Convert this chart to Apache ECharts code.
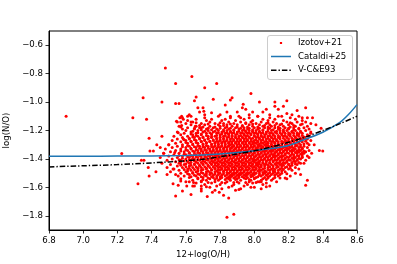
<!DOCTYPE html>
<html>
<head>
<meta charset="utf-8">
<script src="https://cdn.jsdelivr.net/npm/echarts@6/dist/echarts.min.js"></script>
<style>html,body{margin:0;padding:0;background:#fff}#c{width:397px;height:264px}</style>
</head>
<body>
<div id="c"></div>
<script>
// ---- data ----
const xTicks = [6.8, 7.0, 7.2, 7.4, 7.6, 7.8, 8.0, 8.2, 8.4, 8.6];
const yTicks = [-1.8, -1.6, -1.4, -1.2, -1.0, -0.8, -0.6];

// Izotov+21: sparse / outlying points [12+log(O/H), log(N/O)]
const izOut = [
[6.90,-1.10],[7.29,-1.11],[7.37,-1.12],[7.35,-0.97],[7.46,-1.00],[7.48,-0.76],[7.54,-0.87],[7.635,-0.82],
[7.71,-0.90],[7.54,-1.01],[7.56,-1.01],[7.66,-0.965],[7.65,-0.99],[7.67,-1.04],[7.70,-1.04],[7.68,-1.07],
[7.705,-1.065],[7.62,-1.09],[7.61,-1.10],[7.575,-1.10],[7.565,-1.11],[7.71,-1.09],[7.78,-0.87],[7.76,-0.98],
[7.87,-0.97],[7.86,-0.985],[7.98,-0.94],[7.83,-1.02],[7.935,-1.015],[7.93,-1.04],[8.03,-1.00],[8.12,-1.00],
[8.12,-1.03],[8.17,-1.03],[8.19,-0.99],[8.30,-1.04],[8.34,-1.11],[7.75,-1.075],[7.80,-1.09],[7.84,-1.07],
[7.90,-1.07],[7.95,-1.05],[7.99,-1.07],[8.05,-1.07],[8.07,-1.05],[8.14,-1.05],[8.19,-1.08],[8.39,-1.185],
[8.38,-1.34],[8.40,-1.345],[8.335,-1.36],[8.27,-1.51],[8.31,-1.55],[8.30,-1.585],[7.84,-1.81],[7.88,-1.79],
[7.725,-1.665],[7.85,-1.675],[7.91,-1.615],[7.755,-1.635],[7.795,-1.635],[7.82,-1.655],[8.00,-1.60],[8.02,-1.56],
[8.04,-1.56],[8.18,-1.535],[8.07,-1.595],[7.32,-1.575],[7.54,-1.66],[7.58,-1.625],[7.63,-1.65],[7.69,-1.625],
[7.525,-1.575],[7.555,-1.585],[7.555,-1.52],[7.57,-1.555],[7.605,-1.59],[7.62,-1.56],[7.645,-1.565],[7.64,-1.59],
[7.69,-1.59],[7.72,-1.595],[7.69,-1.555],[7.385,-1.255],[7.46,-1.24],[7.43,-1.30],[7.50,-1.30],[7.45,-1.32],
[7.39,-1.345],[7.47,-1.36],[7.535,-1.355],[7.38,-1.46],[7.355,-1.41],[7.425,-1.49],[7.525,-1.47],[7.49,-1.51],
[7.545,-1.135],[7.575,-1.165],[7.555,-1.215],[7.585,-1.26],[7.225,-1.362],[7.385,-1.52],[7.34,-1.41],[7.41,-1.345],
[7.57,-1.175],[7.655,-1.17],[7.68,-1.18],[7.63,-1.14],[7.585,-1.12],[7.55,-1.14],[8.31,-1.26],[8.33,-1.22],
[8.35,-1.30],[8.29,-1.43],[8.32,-1.39],[8.26,-1.47],[8.28,-1.11],[8.36,-1.16],[7.86,-1.10],[7.92,-1.11],
[7.97,-1.09],[8.02,-1.10],[8.09,-1.09],[8.16,-1.10],[8.22,-1.09],[8.25,-1.06]
];

// Izotov+21: dense core, one row per log(N/O) level, listing 12+log(O/H) of points
const izRows = [
[-1.10,[7.63,7.79,7.91,8.02,8.14,8.26]],
[-1.11,[7.58,7.71,7.86,7.97,8.09,8.21,8.31]],
[-1.12,[7.66,7.75,7.83,7.94,8.05,8.12,8.24]],
[-1.13,[7.61,7.72,7.81,7.89,7.99,8.08,8.17,8.28]],
[-1.14,[7.57,7.64,7.74,7.85,7.92,7.98,8.04,8.11,8.19,8.25,8.30]],
[-1.15,[7.60,7.69,7.77,7.82,7.88,7.95,8.01,8.07,8.13,8.22,8.33]],
[-1.16,[7.63,7.71,7.79,7.84,7.90,7.97,8.03,8.09,8.15,8.20,8.27]],
[-1.17,[7.56,7.66,7.74,7.80,7.87,7.93,7.99,8.05,8.10,8.17,8.24,8.31]],
[-1.18,[7.61,7.69,7.76,7.83,7.89,7.94,8.00,8.06,8.12,8.18,8.23,8.29]],
[-1.19,[7.58,7.65,7.72,7.78,7.85,7.91,7.96,8.02,8.08,8.14,8.20,8.26,8.32]],
[-1.20,[7.60,7.67,7.73,7.79,7.84,7.88,7.93,7.97,8.01,8.05,8.10,8.15,8.19,8.24,8.30]],
[-1.21,[7.55,7.63,7.70,7.76,7.81,7.86,7.90,7.95,7.99,8.03,8.07,8.12,8.17,8.22,8.27,8.33]],
[-1.22,[7.59,7.66,7.72,7.78,7.83,7.87,7.92,7.96,8.00,8.04,8.09,8.13,8.18,8.23,8.28]],
[-1.23,[7.57,7.64,7.69,7.75,7.80,7.85,7.89,7.94,7.98,8.02,8.06,8.11,8.16,8.20,8.25,8.31]],
[-1.24,[7.53,7.61,7.67,7.73,7.77,7.82,7.87,7.91,7.95,8.00,8.04,8.08,8.12,8.17,8.21,8.26,8.32]],
[-1.25,[7.58,7.65,7.70,7.75,7.80,7.84,7.89,7.93,7.97,8.01,8.05,8.10,8.14,8.19,8.24,8.29]],
[-1.26,[7.55,7.62,7.68,7.73,7.78,7.82,7.86,7.90,7.94,7.98,8.03,8.07,8.11,8.15,8.20,8.25,8.30]],
[-1.27,[7.52,7.60,7.66,7.71,7.76,7.80,7.84,7.88,7.92,7.96,8.00,8.04,8.09,8.13,8.18,8.22,8.27,8.33]],
[-1.28,[7.57,7.63,7.69,7.74,7.79,7.83,7.87,7.91,7.95,7.99,8.02,8.06,8.10,8.14,8.19,8.23,8.28]],
[-1.29,[7.54,7.61,7.67,7.72,7.77,7.81,7.85,7.89,7.93,7.97,8.01,8.05,8.08,8.12,8.16,8.21,8.26,8.31]],
[-1.30,[7.50,7.58,7.64,7.70,7.75,7.79,7.83,7.86,7.90,7.94,7.98,8.02,8.06,8.10,8.14,8.18,8.22,8.27,8.32]],
[-1.31,[7.55,7.62,7.68,7.73,7.77,7.81,7.85,7.88,7.92,7.96,8.00,8.03,8.07,8.11,8.15,8.20,8.24,8.29]],
[-1.32,[7.52,7.60,7.66,7.71,7.76,7.80,7.84,7.87,7.91,7.95,7.99,8.02,8.05,8.09,8.13,8.17,8.21,8.26,8.31]],
[-1.33,[7.48,7.57,7.63,7.69,7.74,7.78,7.82,7.86,7.89,7.93,7.97,8.01,8.04,8.08,8.12,8.16,8.20,8.24,8.28]],
[-1.34,[7.54,7.61,7.67,7.72,7.76,7.80,7.84,7.88,7.92,7.96,8.00,8.03,8.07,8.11,8.15,8.19,8.23,8.27,8.32]],
[-1.35,[7.51,7.59,7.65,7.70,7.75,7.79,7.83,7.87,7.90,7.94,7.98,8.02,8.06,8.10,8.13,8.17,8.22,8.26,8.30]],
[-1.36,[7.47,7.56,7.62,7.68,7.73,7.77,7.81,7.85,7.89,7.93,7.97,8.00,8.04,8.08,8.12,8.16,8.20,8.25,8.29]],
[-1.37,[7.53,7.60,7.66,7.71,7.75,7.79,7.83,7.87,7.91,7.95,7.99,8.03,8.07,8.11,8.14,8.18,8.23,8.28]],
[-1.38,[7.50,7.58,7.64,7.69,7.74,7.78,7.82,7.86,7.90,7.94,7.98,8.01,8.05,8.09,8.13,8.17,8.21,8.26,8.31]],
[-1.39,[7.45,7.55,7.62,7.67,7.72,7.76,7.80,7.84,7.88,7.92,7.96,8.00,8.04,8.08,8.12,8.16,8.20,8.24,8.28]],
[-1.40,[7.52,7.60,7.65,7.70,7.75,7.79,7.83,7.87,7.91,7.95,7.99,8.02,8.06,8.10,8.14,8.18,8.23,8.27]],
[-1.41,[7.49,7.57,7.63,7.68,7.73,7.77,7.81,7.85,7.89,7.93,7.97,8.01,8.05,8.09,8.13,8.17,8.21,8.25,8.30]],
[-1.42,[7.54,7.61,7.66,7.71,7.76,7.80,7.84,7.88,7.92,7.96,8.00,8.03,8.07,8.11,8.15,8.19,8.24]],
[-1.43,[7.46,7.56,7.62,7.67,7.72,7.77,7.81,7.85,7.89,7.93,7.97,8.01,8.05,8.09,8.14,8.18,8.22,8.27]],
[-1.44,[7.51,7.59,7.65,7.70,7.75,7.79,7.83,7.87,7.91,7.95,7.99,8.02,8.06,8.10,8.15,8.20,8.25]],
[-1.45,[7.55,7.62,7.68,7.73,7.78,7.82,7.86,7.90,7.94,7.98,8.02,8.06,8.11,8.16,8.21]],
[-1.46,[7.49,7.58,7.64,7.69,7.74,7.79,7.83,7.87,7.91,7.95,7.99,8.03,8.08,8.13,8.18,8.24]],
[-1.47,[7.53,7.61,7.67,7.72,7.77,7.81,7.85,7.89,7.93,7.97,8.01,8.05,8.10,8.15,8.20]],
[-1.48,[7.56,7.63,7.69,7.75,7.80,7.84,7.88,7.92,7.96,8.00,8.04,8.09,8.14,8.22]],
[-1.49,[7.51,7.60,7.66,7.72,7.77,7.82,7.86,7.90,7.94,7.98,8.03,8.07,8.12,8.18]],
[-1.50,[7.57,7.64,7.70,7.75,7.80,7.85,7.89,7.93,7.97,8.01,8.06,8.11,8.16,8.24]],
[-1.51,[7.54,7.62,7.68,7.74,7.79,7.84,7.88,7.92,7.96,8.00,8.05,8.10,8.15]],
[-1.52,[7.59,7.66,7.72,7.78,7.83,7.87,7.91,7.95,7.99,8.04,8.09,8.14,8.21]],
[-1.53,[7.62,7.70,7.76,7.81,7.86,7.91,7.96,8.01,8.06,8.12]],
[-1.54,[7.57,7.67,7.74,7.80,7.85,7.90,7.95,8.00,8.05,8.11,8.19]],
[-1.55,[7.64,7.72,7.79,7.86,7.92,7.98,8.04,8.10]],
[-1.56,[7.60,7.69,7.77,7.84,7.90,7.97,8.03,8.13]],
[-1.57,[7.66,7.75,7.83,7.91,7.99,8.07]],
[-1.58,[7.71,7.80,7.88,7.96,8.05]],
[-1.59,[7.65,7.78,7.87,7.94,8.09]],
[-1.60,[7.74,7.85,7.98]],
[-1.61,[7.69,7.81,7.92,8.04]],
[-1.62,[7.77,7.89]]
];

// Izotov+21: densest part of the core, rows between the ones above
const izRowsMid = [
[-1.145,[7.66,7.80,7.95,8.08,8.21]],
[-1.155,[7.73,7.86,7.99,8.16,8.28]],
[-1.165,[7.68,7.82,7.93,8.06,8.12,8.23]],
[-1.175,[7.70,7.77,7.84,7.90,7.96,8.02,8.08,8.14,8.21]],
[-1.185,[7.65,7.73,7.80,7.86,7.92,7.97,8.03,8.09,8.15,8.20,8.26]],
[-1.195,[7.69,7.75,7.82,7.88,7.94,7.99,8.05,8.11,8.17,8.23]],
[-1.205,[7.64,7.71,7.77,7.82,7.86,7.91,7.95,7.99,8.03,8.08,8.13,8.17,8.22,8.27]],
[-1.215,[7.67,7.74,7.79,7.84,7.88,7.93,7.97,8.01,8.05,8.10,8.15,8.20,8.25]],
[-1.225,[7.63,7.69,7.75,7.81,7.85,7.90,7.94,7.98,8.02,8.07,8.11,8.16,8.21,8.26]],
[-1.235,[7.66,7.72,7.78,7.83,7.87,7.92,7.96,8.00,8.04,8.09,8.14,8.18,8.23,8.28]],
[-1.245,[7.64,7.70,7.75,7.80,7.85,7.89,7.93,7.97,8.02,8.06,8.10,8.15,8.19,8.24,8.29]],
[-1.255,[7.62,7.68,7.73,7.78,7.82,7.87,7.91,7.95,7.99,8.03,8.08,8.12,8.17,8.22,8.27]],
[-1.265,[7.59,7.65,7.71,7.76,7.80,7.84,7.88,7.92,7.96,8.01,8.05,8.09,8.13,8.18,8.23,8.28]],
[-1.275,[7.63,7.69,7.74,7.78,7.82,7.86,7.90,7.94,7.98,8.02,8.07,8.11,8.16,8.20,8.25,8.30]],
[-1.285,[7.60,7.66,7.72,7.77,7.81,7.85,7.89,7.93,7.97,8.00,8.04,8.08,8.12,8.17,8.21,8.26]],
[-1.295,[7.64,7.70,7.75,7.79,7.83,7.87,7.91,7.95,7.99,8.03,8.07,8.10,8.14,8.19,8.24,8.29]],
[-1.305,[7.61,7.67,7.72,7.77,7.81,7.85,7.88,7.92,7.96,8.00,8.04,8.08,8.12,8.16,8.20,8.25]],
[-1.315,[7.58,7.65,7.70,7.75,7.79,7.83,7.87,7.90,7.94,7.98,8.02,8.05,8.09,8.13,8.18,8.22,8.27]],
[-1.325,[7.63,7.68,7.73,7.78,7.82,7.86,7.89,7.93,7.97,8.01,8.04,8.07,8.11,8.15,8.19,8.23,8.28]],
[-1.335,[7.60,7.66,7.71,7.76,7.80,7.84,7.88,7.91,7.95,7.99,8.03,8.06,8.10,8.14,8.18,8.22,8.26]],
[-1.345,[7.57,7.64,7.69,7.74,7.78,7.82,7.86,7.90,7.94,7.98,8.02,8.05,8.09,8.13,8.17,8.21,8.25,8.29]],
[-1.355,[7.62,7.67,7.72,7.77,7.81,7.85,7.89,7.92,7.96,8.00,8.04,8.08,8.12,8.15,8.19,8.24,8.28]],
[-1.365,[7.59,7.65,7.70,7.75,7.79,7.83,7.87,7.91,7.95,7.99,8.02,8.06,8.10,8.14,8.18,8.22,8.27]],
[-1.375,[7.56,7.63,7.68,7.73,7.77,7.81,7.85,7.89,7.93,7.97,8.01,8.05,8.09,8.12,8.16,8.21,8.25]],
[-1.385,[7.61,7.66,7.71,7.76,7.80,7.84,7.88,7.92,7.96,8.00,8.03,8.07,8.11,8.15,8.19,8.23,8.28]],
[-1.395,[7.58,7.64,7.69,7.74,7.78,7.82,7.86,7.90,7.94,7.98,8.02,8.06,8.10,8.14,8.18,8.22,8.26]],
[-1.405,[7.56,7.62,7.67,7.72,7.77,7.81,7.85,7.89,7.93,7.97,8.00,8.04,8.08,8.12,8.16,8.20,8.25]],
[-1.415,[7.59,7.65,7.70,7.75,7.79,7.83,7.87,7.91,7.95,7.99,8.03,8.07,8.11,8.15,8.19,8.23]],
[-1.425,[7.57,7.63,7.69,7.74,7.78,7.82,7.86,7.90,7.94,7.98,8.02,8.05,8.09,8.13,8.17,8.22,8.26]],
[-1.435,[7.60,7.65,7.70,7.75,7.79,7.83,7.87,7.91,7.95,7.99,8.03,8.07,8.12,8.16,8.20,8.24]],
[-1.445,[7.57,7.63,7.68,7.73,7.77,7.81,7.85,7.89,7.93,7.97,8.01,8.04,8.08,8.13,8.17,8.22]],
[-1.455,[7.60,7.66,7.71,7.76,7.80,7.84,7.88,7.92,7.96,8.00,8.04,8.09,8.14,8.19]],
[-1.465,[7.62,7.67,7.72,7.77,7.81,7.85,7.89,7.93,7.97,8.01,8.06,8.11,8.16,8.21]],
[-1.475,[7.59,7.65,7.70,7.75,7.79,7.83,7.87,7.91,7.95,7.99,8.03,8.08,8.12,8.17]],
[-1.485,[7.61,7.67,7.73,7.78,7.82,7.86,7.90,7.94,7.98,8.02,8.06,8.11,8.16]],
[-1.495,[7.64,7.69,7.74,7.79,7.84,7.88,7.92,7.96,8.00,8.05,8.09,8.14]],
[-1.505,[7.61,7.67,7.72,7.77,7.82,7.87,7.91,7.95,7.99,8.03,8.08,8.13,8.19]],
[-1.515,[7.65,7.71,7.76,7.81,7.86,7.90,7.94,7.98,8.03,8.07,8.12]],
[-1.525,[7.63,7.69,7.75,7.80,7.85,7.89,7.93,7.98,8.02,8.08]],
[-1.535,[7.67,7.73,7.78,7.84,7.88,7.94,8.00,8.08,8.15]],
[-1.545,[7.70,7.77,7.83,7.89,7.97,8.07]],
[-1.565,[7.73,7.81,7.88,7.95,8.01]]
];

// Cataldi+25 curve
const catX = [6.8, 7.0, 7.2, 7.4, 7.6, 7.7, 7.8, 7.9, 8.0, 8.1, 8.2, 8.3, 8.4, 8.5, 8.55, 8.6];
const catY = [-1.381, -1.381, -1.380, -1.379, -1.376, -1.372, -1.365, -1.355, -1.342, -1.327, -1.305, -1.26, -1.212, -1.143, -1.088, -1.018];

// V-C&E93 curve
const vceX = [6.8, 7.0, 7.2, 7.4, 7.6, 7.7, 7.8, 7.9, 8.0, 8.1, 8.2, 8.3, 8.4, 8.5, 8.6];
const vceY = [-1.456, -1.448, -1.440, -1.428, -1.413, -1.402, -1.385, -1.365, -1.343, -1.315, -1.283, -1.245, -1.200, -1.152, -1.100];

// ---- build series data ----
const izPoints = izOut.slice();
izRows.concat(izRowsMid).forEach(function (r) { r[1].forEach(function (x) { izPoints.push([x, r[0]]); }); });
const catData = catX.map(function (x, i) { return [x, catY[i]]; });
const vceData = vceX.map(function (x, i) { return [x, vceY[i]]; });

const FONT = 'DejaVu Sans';
const minus = function (s) { return s.replace('-', '\u2212'); };
const BBOX = 'M0,0L0.01,0M20,8L20.01,8';

const chart = echarts.init(document.getElementById('c'), null, { renderer: 'canvas' });
chart.setOption({
  animation: false,
  backgroundColor: '#fff',
  textStyle: { fontFamily: FONT },
  grid: { left: 49, right: 40, top: 31, bottom: 34, containLabel: false, outerBoundsMode: 'none',
    show: true, borderColor: '#000', borderWidth: 1, backgroundColor: 'transparent' },
  xAxis: {
    type: 'value', min: 6.8, max: 8.6, interval: 0.2,
    name: '12+log(O/H)', nameLocation: 'middle', nameGap: 19,
    nameTextStyle: { color: '#000', fontSize: 8.6, fontFamily: FONT },
    axisLine: { show: true, onZero: false, lineStyle: { color: '#000', width: 1 } },
    axisTick: { show: true, length: 3.5, lineStyle: { color: '#000', width: 0.8 } },
    axisLabel: { color: '#000', fontSize: 8.6, fontFamily: FONT, margin: 6,
      formatter: function (v) { return minus(v.toFixed(1)); } },
    splitLine: { show: false }
  },
  yAxis: {
    type: 'value', min: -1.9, max: -0.5,
    name: 'log(N/O)', nameLocation: 'middle', nameGap: 32, nameRotate: 90,
    nameTextStyle: { color: '#000', fontSize: 8.6, fontFamily: FONT },
    axisLine: { show: true, onZero: false, lineStyle: { color: '#000', width: 1 } },
    axisTick: { show: true, length: 3.5, customValues: yTicks, lineStyle: { color: '#000', width: 0.8 } },
    axisLabel: { color: '#000', fontSize: 8.6, fontFamily: FONT, margin: 6, customValues: yTicks,
      formatter: function (v) { return minus(Number(v).toFixed(1)); } },
    splitLine: { show: false }
  },
  graphic: [{
    type: 'rect', z: 50,
    shape: { x: 267.5, y: 35.5, width: 85, height: 44, r: 2.5 },
    style: { fill: 'rgba(255,255,255,0.85)', stroke: '#cccccc', lineWidth: 1 }
  }],
  legend: {
    orient: 'vertical', left: 271, top: 38, padding: 0, z: 60,
    itemWidth: 20, itemHeight: 8, itemGap: 3.6,
    textStyle: { color: '#000', fontSize: 8.6, fontFamily: FONT, lineHeight: 10, padding: [0, 0, 0, 2] },
    data: [
      { name: 'Izotov+21', icon: 'path://' + BBOX + 'M8.9,2.9L11.1,2.9L11.1,5.1L8.9,5.1Z' },
      { name: 'Cataldi+25', icon: 'path://' + BBOX + 'M0,3.25L20,3.25L20,4.75L0,4.75Z' },
      { name: 'V-C&E93', icon: 'path://' + BBOX + 'M0,3.25L5.5,3.25L5.5,4.75L0,4.75Z M7.5,3.25L8.9,3.25L8.9,4.75L7.5,4.75Z M10.9,3.25L16.4,3.25L16.4,4.75L10.9,4.75Z M18.4,3.25L19.8,3.25L19.8,4.75L18.4,4.75Z' }
    ]
  },
  series: [
    {
      name: 'Izotov+21', type: 'scatter', data: izPoints,
      symbol: 'circle', symbolSize: 3, z: 2, large: false,
      itemStyle: { color: '#ff0000', opacity: 1 },
      emphasis: { disabled: true }
    },
    {
      name: 'Cataldi+25', type: 'line', data: catData, smooth: 0.3,
      symbol: 'none', showSymbol: false, z: 3,
      lineStyle: { color: '#1f77b4', width: 1.5 },
      itemStyle: { color: '#1f77b4' }
    },
    {
      name: 'V-C&E93', type: 'line', data: vceData, smooth: 0.3,
      symbol: 'none', showSymbol: false, z: 4,
      lineStyle: { color: '#000', width: 1.5, type: [5.5, 2, 1.3, 2] },
      itemStyle: { color: '#000' }
    }
  ]
});
</script>
</body>
</html>
